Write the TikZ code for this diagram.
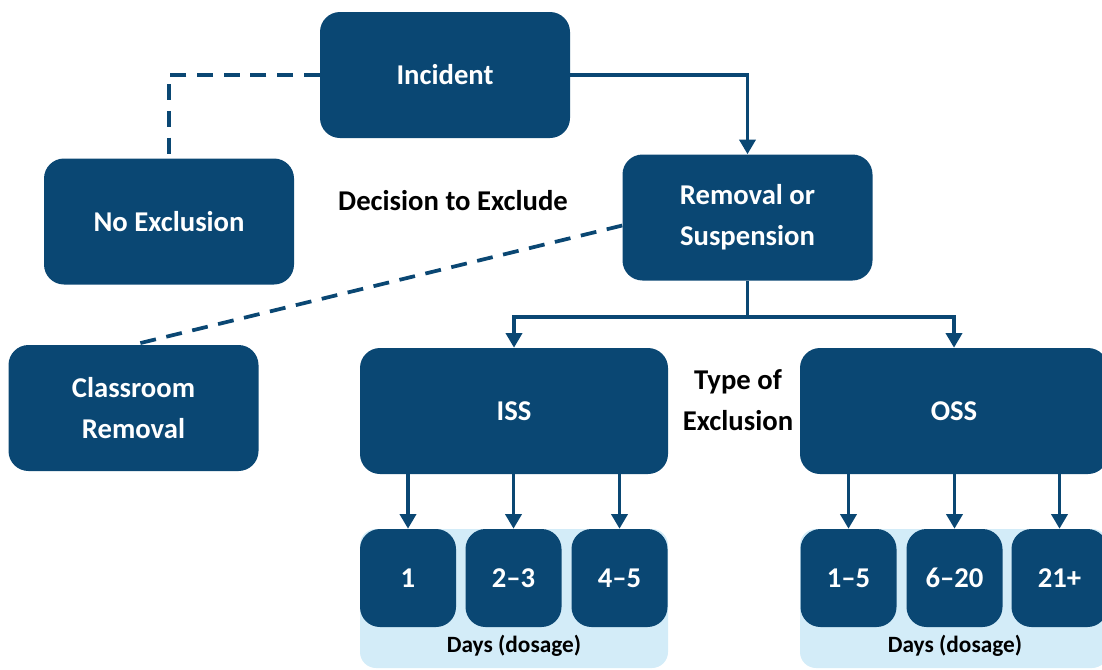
\documentclass[tikz,border=0pt]{standalone}
\usepackage{fontspec}
\setmainfont{Carlito}
\usetikzlibrary{arrows.meta}
\definecolor{navy}{HTML}{0A4773}
\definecolor{pale}{HTML}{D3ECF8}
\begin{document}
\begin{tikzpicture}[x=0.75pt,y=-0.75pt,
  box/.style={fill=navy, rounded corners=15pt, text=white, align=center, inner sep=0pt,
    font=\bfseries\fontsize{21.5}{31}\selectfont},
  bigbox/.style={box, minimum width=187.5pt, minimum height=94.5pt},
  widebox/.style={box, minimum width=231pt, minimum height=94.5pt},
  daybox/.style={box, minimum width=72pt, minimum height=73.5pt},
  lbl/.style={text=black, align=center, font=\bfseries\fontsize{21.5}{31}\selectfont},
  daylbl/.style={text=black, font=\bfseries\fontsize{17.5}{20}\selectfont},
  conn/.style={draw=navy, line width=2.8pt},
  arr/.style={conn, -{Triangle[width=12pt,length=11pt]}},
  dsh/.style={conn, dash pattern=on 12pt off 8pt}]
\useasboundingbox (0,0) rectangle (1102,669);
\clip (0,0) rectangle (1102,669);
% pale backgrounds
\fill[pale, rounded corners=12pt] (360,529) rectangle (668,668);
\fill[pale, rounded corners=12pt] (800,529) rectangle (1108,668);
% main boxes
\node[bigbox] (inc) at (445,75) {Incident};
\node[bigbox] (noex) at (169,221.5) {No Exclusion};
\node[bigbox] (rem) at (747.5,217.5) {Removal or\\Suspension};
\node[bigbox] (cls) at (133.5,408) {Classroom\\Removal};
\node[widebox] (iss) at (514,411) {ISS};
\node[widebox] (oss) at (954,411) {OSS};
% day boxes
\node[daybox] (i1) at (408,578) {1};
\node[daybox] (i2) at (513.5,578) {2--3};
\node[daybox] (i3) at (619.5,578) {4--5};
\node[daybox] (o1) at (848.5,578) {1--5};
\node[daybox] (o2) at (954.5,578) {6--20};
\node[daybox] (o3) at (1059.5,578) {21+};
% labels
\node[lbl] (dec) at (453,201) {Decision to Exclude};
\node[lbl] (typ) at (738,400) {Type of\\Exclusion};
\node[daylbl] (d1) at (514,646) {Days (dosage)};
\node[daylbl] (d2) at (955,646) {Days (dosage)};
% connectors
\draw[arr] (inc.east) -| (rem.north);
\draw[dsh] (inc.west) -| (noex.north);
\draw[dsh] ([yshift=-6pt]rem.west) -- (cls.north);
\draw[conn] (rem.south) -- ++(0,36) coordinate (j);
\draw[arr] (j) -| (iss.north);
\draw[arr] (j) -| (oss.north);
\foreach \b in {i1,i2,i3} \draw[arr] (iss.south -| \b.north) -- (\b.north);
\foreach \b in {o1,o2,o3} \draw[arr] (oss.south -| \b.north) -- (\b.north);
\end{tikzpicture}
\end{document}
